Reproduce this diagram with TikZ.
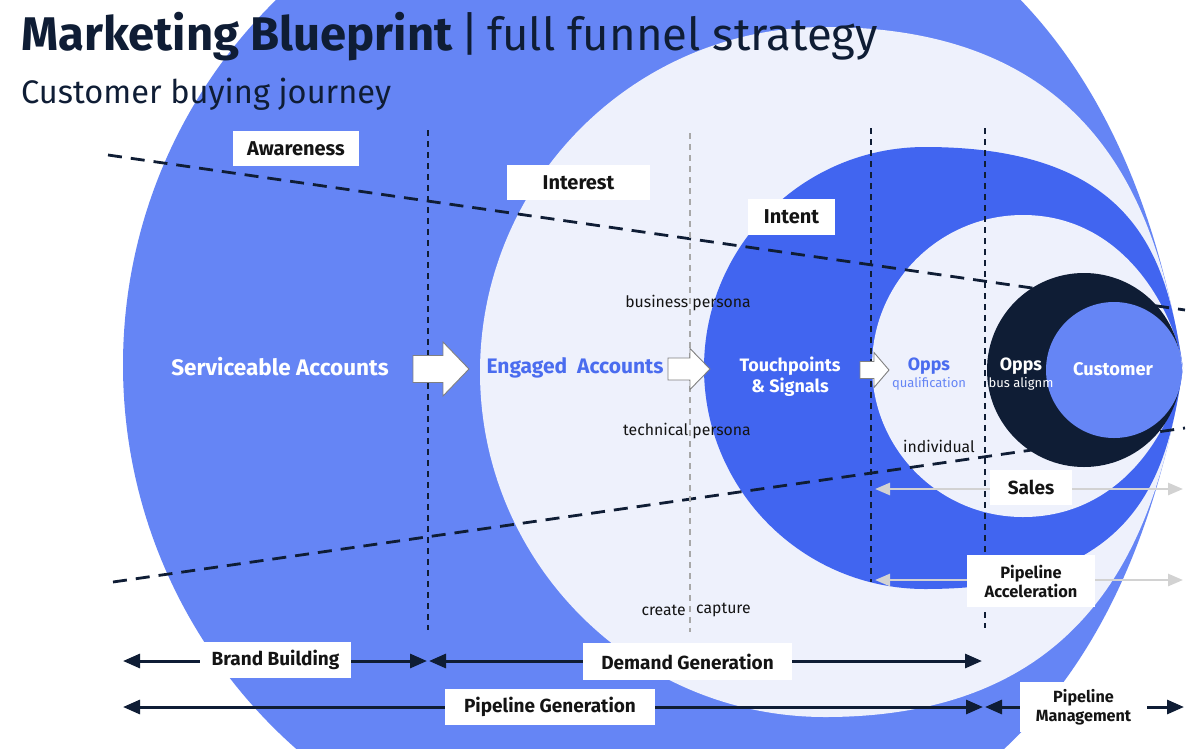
\documentclass[tikz,border=0pt]{standalone}
\usepackage{fontspec}
\setmainfont{Fira Sans}
\usetikzlibrary{arrows.meta}
\definecolor{outerblue}{HTML}{6585F5}
\definecolor{lightbg}{HTML}{EEF1FC}
\definecolor{intentblue}{HTML}{4165F0}
\definecolor{navy}{HTML}{0F1D35}
\definecolor{engaged}{HTML}{4A6CEF}
\definecolor{arrowgray}{HTML}{D2D2D2}
\definecolor{txt}{HTML}{141414}
\definecolor{vgray}{HTML}{A8A8A8}
% colour, cx, cy, r, s1, s2
\newcommand{\blob}[6]{%
\fill[#1] (tip) .. controls ({1183-0.155*#5},{368-0.988*#5}) and ({#2+#6},{#3-#4}) .. ({#2},{#3-#4})
 .. controls ({#2-0.5523*#4},{#3-#4}) and ({#2-#4},{#3-0.5523*#4}) .. ({#2-#4},{#3})
 .. controls ({#2-#4},{#3+0.5523*#4}) and ({#2-0.5523*#4},{#3+#4}) .. ({#2},{#3+#4})
 .. controls ({#2+#6},{#3+#4}) and ({1183-0.155*#5},{368+0.988*#5}) .. (tip) -- cycle;}
% x0, xh, x1, y, body half, head half
\newcommand{\blockarrow}[6]{%
\draw[blockline] (#1,{#4-#5}) -- (#2,{#4-#5}) -- (#2,{#4-#6}) -- (#3,#4) -- (#2,{#4+#6}) -- (#2,{#4+#5}) -- (#1,{#4+#5}) -- cycle;}
\tikzset{
  blockline/.style={draw=black!50, line width=0.9pt, fill=white},
  boxlbl/.style={fill=white, inner sep=0pt, text=txt, align=center, font=\bfseries\fontsize{19}{21}\selectfont},
  toplbl/.style={boxlbl, font=\bfseries\fontsize{20}{22}\selectfont},
  navyarrow/.style={draw=navy, line width=3pt, {Triangle[length=17pt,width=14pt]}-{Triangle[length=17pt,width=14pt]}},
  grayarrow/.style={draw=arrowgray, line width=2.6pt, {Triangle[length=15pt,width=12pt]}-{Triangle[length=15pt,width=12pt]}},
  slantdash/.style={draw=navy, line width=2.8pt, dash pattern=on 14pt off 9pt},
  vdash/.style={draw=navy, line width=1.3pt, dash pattern=on 6pt off 5pt},
  vdashgray/.style={draw=vgray, line width=1.3pt, dash pattern=on 6pt off 5pt},
  small/.style={inner sep=0pt, text=txt, font=\fontsize{15.8}{18}\selectfont},
  inner/.style={inner sep=0pt, font=\bfseries\fontsize{22.5}{24}\selectfont},
}
\begin{document}
\begin{tikzpicture}[x=1pt,y=-1pt]
\useasboundingbox (0,0) rectangle (1200,748);
\fill[white] (0,0) rectangle (1200,748);
\coordinate (tip) at (1183,368);
\begin{scope}
\clip (0,0) rectangle (1200,748);
\blob{outerblue}{635}{365}{512}{250}{380}
\blob{lightbg}{825}{372}{345}{150}{280}
\blob{intentblue}{925}{368}{221}{100}{220}
\blob{lightbg}{1023}{366}{151}{60}{100}
\end{scope}
% slanted dashed lines
\coordinate (dA1) at (108,155);
\coordinate (dA2) at (1185,310);
\coordinate (dB1) at (113,582);
\coordinate (dB2) at (1185,428);
\draw[slantdash] (dA1) -- (dA2);
\draw[slantdash] (dB1) -- (dB2);
% vertical dashed lines
\coordinate (v1t) at (428,130); \coordinate (v1b) at (428,630);
\coordinate (v2t) at (690,133); \coordinate (v2b) at (690,632);
\coordinate (v3t) at (871,128); \coordinate (v3b) at (871,582);
\coordinate (v4t) at (985,128); \coordinate (v4b) at (985,628);
\draw[vdash] (v1t) -- (v1b);
\draw[vdashgray] (v2t) -- (v2b);
\draw[vdash] (v3t) -- (v3b);
\draw[vdash] (v4t) -- (v4b);
% dark and customer circles
\fill[navy] (1084,370) circle[radius=97pt];
\fill[outerblue] (1114,370) circle[radius=68pt];
% title
\node[anchor=base west, inner sep=0pt, text=navy, font=\bfseries\fontsize{47.2}{53}\selectfont] (title) at (21,50) {Marketing Blueprint};
\node[anchor=base, inner sep=0pt, text=navy, font=\fontsize{47}{53}\selectfont] (bar) at (470,50) {|};
\node[anchor=base west, inner sep=0pt, text=navy, font=\fontsize{45.5}{52}\selectfont] (subtitle) at (487,50) {full funnel strategy};
\node[anchor=base west, inner sep=0pt, text=navy, font=\fontsize{32.6}{38}\selectfont] (journey) at (21,103) {Customer buying journey};
% stage boxes
\node[toplbl, minimum width=126pt, minimum height=35pt] (aware) at (296,148.5) {Awareness};
\node[toplbl, minimum width=143pt, minimum height=35pt] (interest) at (578.5,182.5) {Interest};
\node[toplbl, minimum width=87pt, minimum height=36pt] (intent) at (791.5,217) {Intent};
% block arrows
\blockarrow{413}{443}{469}{369}{13.5}{27}
\blockarrow{668}{690}{710}{369}{11}{20.5}
\blockarrow{860}{874}{889}{370}{8.5}{17.5}
% inner texts
\node[inner, text=white] (serv) at (280,367) {Serviceable Accounts};
\node[inner, text=engaged, font=\bfseries\fontsize{21}{23}\selectfont] (eng) at (575,368) {Engaged\ \ Accounts};
\node[inner, text=white, align=center, font=\bfseries\fontsize{18}{21}\selectfont] (touch) at (790,377) {Touchpoints\\\& Signals};
\node[inner, text=engaged, font=\bfseries\fontsize{17.8}{20}\selectfont] (opps1) at (929,366) {Opps};
\node[inner sep=0pt, text=outerblue, font=\fontsize{13}{15}\selectfont] (qual) at (929,384) {qualification};
\node[inner, text=white, font=\bfseries\fontsize{17.8}{20}\selectfont] (opps2) at (1021,366) {Opps};
\node[inner sep=0pt, text=white, font=\fontsize{13}{15}\selectfont] (bus) at (1021,384) {bus alignm};
\node[inner, text=white, font=\bfseries\fontsize{18.3}{21}\selectfont] (cust) at (1113,369) {Customer};
\node[small] (bp) at (688,303) {business persona};
\node[small] (tp) at (687,431) {technical persona};
\node[small] (indiv) at (939,446) {individual};
\node[small, anchor=east] (create) at (686,610) {create};
\node[small, anchor=west] (capture) at (696,610) {capture};
% gray arrows
\coordinate (sL) at (875,489); \coordinate (sR) at (1183,489);
\coordinate (aL) at (875,580); \coordinate (aR) at (1183,580);
\draw[grayarrow] (sL) -- (sR);
\draw[grayarrow] (aL) -- (aR);
\node[boxlbl, minimum width=82pt, minimum height=35pt] (sales) at (1031,487.5) {Sales};
\node[boxlbl, minimum width=128pt, minimum height=52pt, font=\bfseries\fontsize{16.4}{19}\selectfont] (accel) at (1031,581) {Pipeline\\Acceleration};
% bottom arrows
\coordinate (bbL) at (123,661); \coordinate (bbR) at (427,661);
\coordinate (dgL) at (429,661); \coordinate (dgR) at (982,661);
\coordinate (pgL) at (123,707); \coordinate (pgR) at (983,707);
\coordinate (pmL) at (985,707); \coordinate (pmR) at (1184,707);
\draw[navyarrow] (bbL) -- (bbR);
\draw[navyarrow] (dgL) -- (dgR);
\draw[navyarrow] (pgL) -- (pgR);
\draw[navyarrow] (pmL) -- (pmR);
\node[boxlbl, minimum width=151pt, minimum height=36pt] (brand) at (275.5,660) {Brand Building};
\node[boxlbl, minimum width=209pt, minimum height=37pt] (demand) at (687.5,661.5) {Demand Generation};
\node[boxlbl, minimum width=210pt, minimum height=36pt] (pipegen) at (550,707) {Pipeline Generation};
\node[boxlbl, minimum width=127pt, minimum height=50pt, font=\bfseries\fontsize{16.2}{18.5}\selectfont] (pipeman) at (1083.5,707) {Pipeline\\Management};
\end{tikzpicture}
\end{document}
